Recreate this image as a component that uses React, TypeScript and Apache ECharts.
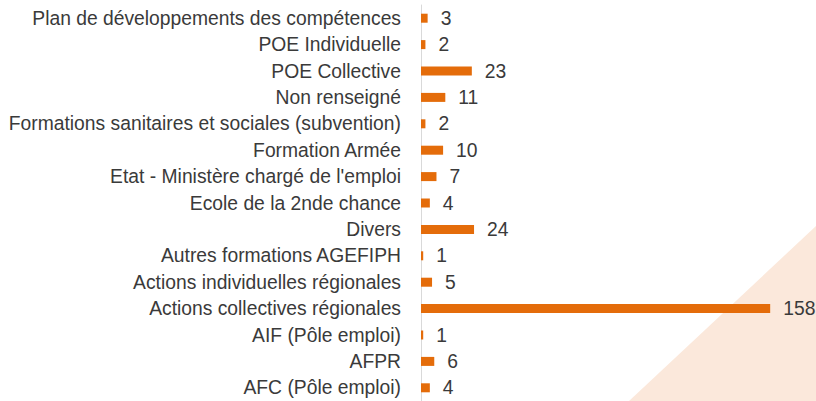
import React, { useEffect, useRef } from "react";
import * as echarts from "echarts";

const categories = [
  "Plan de développements des compétences",
  "POE Individuelle",
  "POE Collective",
  "Non renseigné",
  "Formations sanitaires et sociales (subvention)",
  "Formation Armée",
  "Etat - Ministère chargé de l'emploi",
  "Ecole de la 2nde chance",
  "Divers",
  "Autres formations AGEFIPH",
  "Actions individuelles régionales",
  "Actions collectives régionales",
  "AIF (Pôle emploi)",
  "AFPR",
  "AFC (Pôle emploi)",
];

const values = [3, 2, 23, 11, 2, 10, 7, 4, 24, 1, 5, 158, 1, 6, 4];

export default function App() {
  const ref = useRef<HTMLDivElement>(null);
  useEffect(() => {
    if (!ref.current) return;
    const chart = echarts.init(ref.current, null, { renderer: "svg" });
    chart.setOption({
      animation: false,
      backgroundColor: "#ffffff",
      graphic: [
        {
          type: "polygon",
          z: -10,
          silent: true,
          shape: { points: [[629, 401], [816, 226], [816, 401]] },
          style: { fill: "#FBE8DB" },
        },
      ],
      grid: { left: 421, top: 5, width: 353.6, height: 397, containLabel: false },
      xAxis: {
        type: "value",
        min: 0,
        max: 160,
        show: false,
      },
      yAxis: {
        type: "category",
        data: categories,
        inverse: true,
        axisLine: { show: true, lineStyle: { color: "#D9D9D9", width: 1 } },
        axisTick: { show: false },
        axisLabel: {
          color: "#3A3A3A",
          fontFamily: "Liberation Sans",
          fontSize: 19.3,
          margin: 20,
        },
      },
      series: [
        {
          type: "bar",
          data: values,
          barWidth: 9,
          itemStyle: { color: "#E46C0A" },
          label: {
            show: true,
            position: "right",
            distance: 13,
            color: "#3A3A3A",
            fontFamily: "Liberation Sans",
            fontSize: 19.3,
          },
        },
      ],
    });
    return () => chart.dispose();
  }, []);
  return (
    <div
      ref={ref}
      style={{ position: "fixed", left: 0, top: 0, width: 816, height: 401 }}
    />
  );
}
